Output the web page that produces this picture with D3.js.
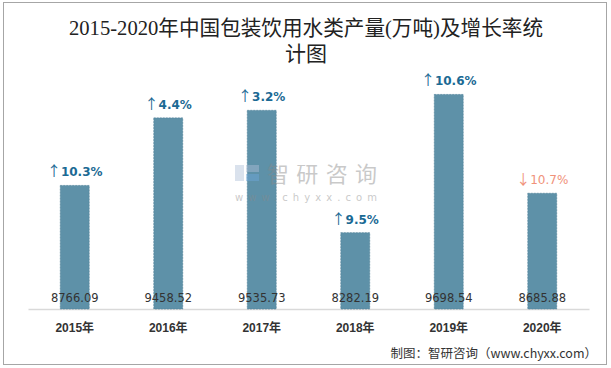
<!DOCTYPE html>
<html><head><meta charset="utf-8">
<script src="https://cdn.jsdelivr.net/npm/d3@7"></script>
<style>body{margin:0;background:#fff}svg{display:block}</style>
</head><body><svg id="c" width="611" height="368"></svg>
<script>
const categories = ["2015年","2016年","2017年","2018年","2019年","2020年"];
const values = [8766.09, 9458.52, 9535.73, 8282.19, 9698.54, 8685.88];
const growth = [10.3, 4.4, 3.2, 9.5, 10.6, -10.7];
const yDomain = [7500, 10000];

const svg = d3.select("#c");
svg.append("rect").attr("x",3.5).attr("y",2.5).attr("width",603).attr("height",362)
  .attr("fill","#fff").attr("stroke","#a6a6a6").attr("stroke-width",1);

const titleFont = "'Liberation Serif','Noto Sans CJK SC',serif";
svg.append("text").attr("x",306).attr("y",35).attr("text-anchor","middle")
  .attr("font-family",titleFont).attr("font-size",21).attr("fill","#222")
  .attr("textLength",474).attr("lengthAdjust","spacingAndGlyphs")
  .text("2015-2020年中国包装饮用水类产量(万吨)及增长率统");
svg.append("text").attr("x",306).attr("y",61).attr("text-anchor","middle")
  .attr("font-family",titleFont).attr("font-size",21).attr("fill","#222")
  .text("计图");

const x = d3.scaleBand().domain(categories).range([28, 589]).paddingInner(0.69).paddingOuter(0.345);
const y = d3.scaleLinear().domain(yDomain).range([309, 65]);

// axis baseline
const xAxis = d3.axisBottom(x).tickSize(0).tickPadding(14);
const ax = svg.append("g").attr("transform","translate(0,309)").call(xAxis);
ax.select(".domain").attr("stroke","#d9d9d9").attr("stroke-width",1.5);
ax.selectAll("text").attr("font-family","'Liberation Sans','Noto Sans CJK SC',sans-serif")
  .attr("font-size",12).attr("font-weight","bold").attr("fill","#333");

svg.append("g").selectAll("rect").data(values).join("rect")
  .attr("x",(d,i)=>x(categories[i])).attr("width",x.bandwidth())
  .attr("y",d=>y(d)).attr("height",d=>y(yDomain[0])-y(d))
  .attr("fill","#5e91a8").attr("stroke","#4f7f97").attr("stroke-width",0.6).attr("stroke-dasharray","2,1");

// watermark (semi-transparent, above bars)
const wm = svg.append("g").attr("opacity",0.45);
wm.append("rect").attr("x",235).attr("y",165).attr("width",9).attr("height",16).attr("fill","#aebfd8");
wm.append("rect").attr("x",246).attr("y",165).attr("width",13).attr("height",7).attr("fill","#aebfd8");
wm.append("rect").attr("x",246).attr("y",174).attr("width",13).attr("height",7).attr("fill","#6fa8dc");
wm.append("text").attr("x",267).attr("y",182).attr("font-family","'Noto Sans CJK SC'").attr("font-size",22)
  .attr("fill","#8a8a8a").attr("textLength",110).attr("lengthAdjust","spacing").text("智研咨询");
wm.append("text").attr("x",235).attr("y",201).attr("font-family","'DejaVu Sans'").attr("font-size",10)
  .attr("fill","#8a8a8a").attr("textLength",142).attr("lengthAdjust","spacing").text("www.chyxx.com");

svg.append("g").selectAll("text").data(values).join("text")
  .attr("x",(d,i)=>x(categories[i])+x.bandwidth()/2).attr("y",302)
  .attr("text-anchor","middle").attr("font-family","'DejaVu Sans',sans-serif").attr("font-size",11.5)
  .attr("fill","#333").text(d=>d.toFixed(2));

const gl = svg.append("g").selectAll("text").data(growth).join("text")
  .attr("x",(d,i)=>x(categories[i])+x.bandwidth()/2).attr("y",(d,i)=>y(values[i])-9)
  .attr("text-anchor","middle").attr("font-family","'DejaVu Sans',sans-serif").attr("font-size",12)
  .attr("font-weight",d=>d<0?"normal":"bold").attr("fill",d=>d<0?"#f0927a":"#1b6a94");
gl.append("tspan").attr("font-family","'Noto Sans CJK SC'").attr("font-size",14).attr("font-weight","normal")
  .text(d=>d<0?"↓":"↑");
gl.append("tspan").text(d=>Math.abs(d).toFixed(1)+"%");

svg.append("text").attr("x",597).attr("y",358).attr("text-anchor","end")
  .attr("font-family","'Noto Sans CJK SC',sans-serif").attr("font-size",12.5).attr("fill","#333")
  .text("制图：智研咨询（www.chyxx.com）");
</script></body></html>
